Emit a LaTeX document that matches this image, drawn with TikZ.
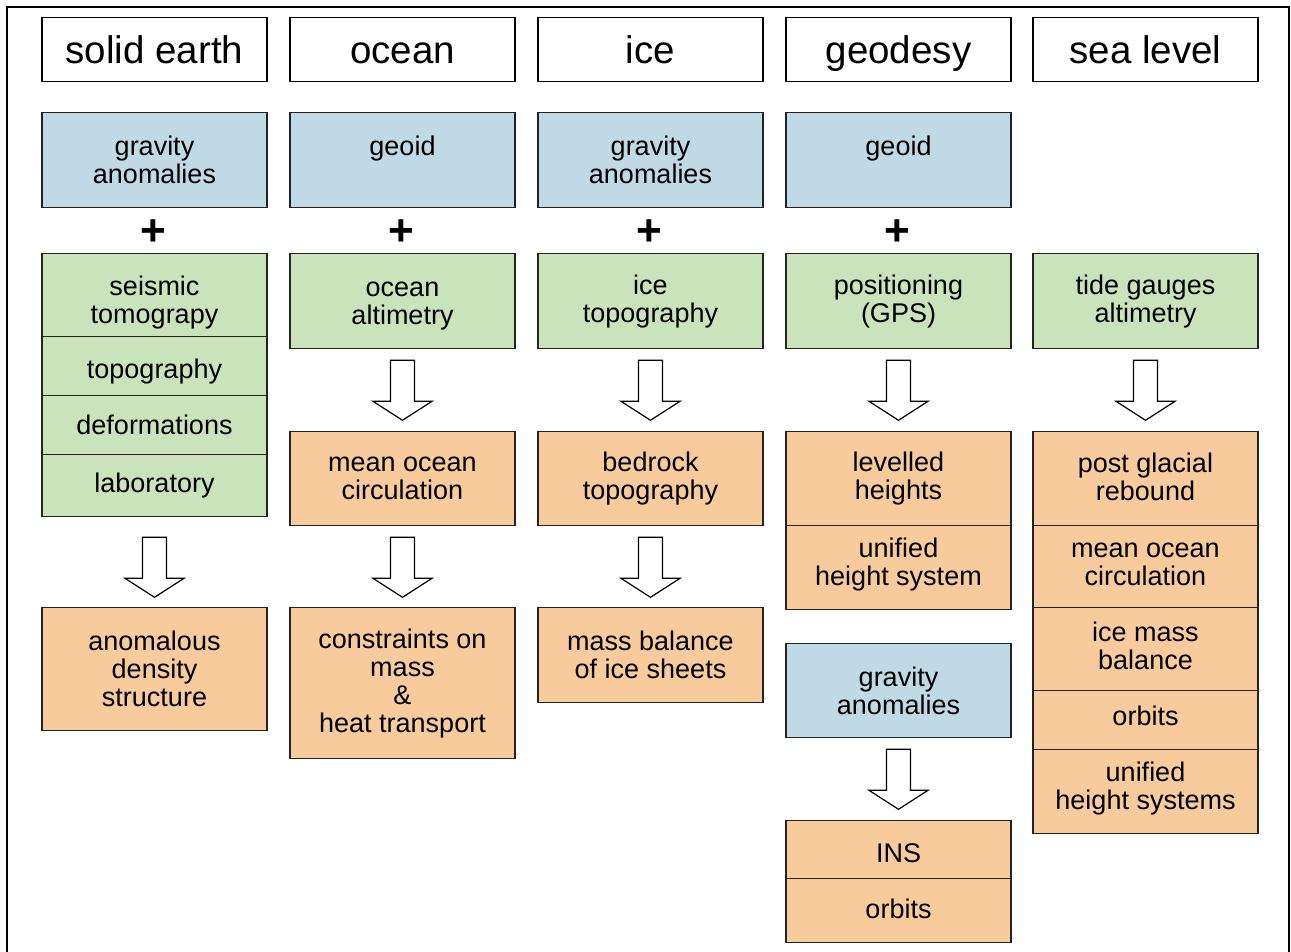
\documentclass[tikz,border=0pt]{standalone}
\usepackage{fontspec}
\setmainfont{Liberation Sans}
\usepackage{xcolor}

\definecolor{cellblue}{RGB}{191,218,228}
\definecolor{cellgreen}{RGB}{203,227,187}
\definecolor{cellorange}{RGB}{248,203,156}
\definecolor{celledge}{RGB}{35,35,35}

% invisible struts to nudge the text of a cell down (height) or up (depth)
\newcommand{\sinktext}[1]{\rule{0pt}{#1}}
\newcommand{\lifttext}[1]{\rule[-#1]{0pt}{#1}}

\tikzset{
  cell/.style={draw=celledge, line width=1.3pt, minimum width=225pt, inner sep=0pt,
    align=center, anchor=north, font=\fontsize{27}{28}\selectfont},
  titlecell/.style={cell, draw=black, fill=white, minimum height=64pt,
    text height=28pt, text depth=0pt, font=\fontsize{38.5}{40}\selectfont},
  bluecell/.style={cell, fill=cellblue},
  greencell/.style={cell, fill=cellgreen},
  orangecell/.style={cell, fill=cellorange},
  plussign/.style={inner sep=0pt, font=\fontsize{44}{44}\bfseries\selectfont},
  hollowarrow/.pic={
    \draw[line width=1.2pt, fill=white] (-12,0) -- (-12,41) -- (-29.5,41) -- (0,60)
      -- (29.5,41) -- (12,41) -- (12,0) -- cycle;
  }
}

\begin{document}
\begin{tikzpicture}[x=1pt, y=-1pt]

\useasboundingbox (0,0) rectangle (1291,952);
\draw[line width=2pt] (7,7) rectangle (1289,975);

\node[titlecell] (solid) at (154.5,17) {solid earth};
\node[titlecell] (ocean) at (402.5,17) {ocean};
\node[titlecell] (ice) at (650.5,17) {ice};
\node[titlecell] (geodesy) at (898.5,17) {geodesy};
\node[titlecell] (sealevel) at (1145.5,17) {sea level};

\node[bluecell, minimum height=95pt] (solidgrav) at (154.5,112) {gravity\\anomalies};
\node[bluecell, minimum height=95pt] (oceangeoid) at (402.5,112) {geoid\\\mbox{}};
\node[bluecell, minimum height=95pt] (icegrav) at (650.5,112) {gravity\\anomalies};
\node[bluecell, minimum height=95pt] (geodgeoid) at (898.5,112) {geoid\\\mbox{}};

\node[plussign] (solidplus) at (153,233) {+};
\node[plussign] (oceanplus) at (401,233) {+};
\node[plussign] (iceplus) at (649,233) {+};
\node[plussign] (geodplus) at (897,233) {+};

\node[greencell, minimum height=83pt] (seismic) at (154.5,253) {\sinktext{35pt}seismic\\tomograpy};
\node[greencell, minimum height=59pt] (topo) at (154.5,336) {\sinktext{31pt}topography};
\node[greencell, minimum height=59pt] (deform) at (154.5,395) {deformations};
\node[greencell, minimum height=62pt] (lab) at (154.5,454) {laboratory};
\node[greencell, minimum height=95pt] (altim) at (402.5,253) {\sinktext{24pt}ocean\\altimetry};
\node[greencell, minimum height=95pt] (icetopo) at (650.5,253) {ice\\topography};
\node[greencell, minimum height=95pt] (gps) at (898.5,253) {positioning\\(GPS)};
\node[greencell, minimum height=95pt] (gauges) at (1145.5,253) {tide gauges\\altimetry};

\path (lab.south) ++(0,20) pic {hollowarrow};
\path (altim.south) ++(0,11) pic {hollowarrow};
\path (icetopo.south) ++(0,11) pic {hollowarrow};
\path (gps.south) ++(0,11) pic {hollowarrow};
\path (gauges.south) ++(0,11) pic {hollowarrow};

\node[orangecell, minimum height=123pt] (density) at (154.5,607) {anomalous\\density\\structure};

\node[orangecell, minimum height=94pt] (circ) at (402.5,431) {mean ocean\\circulation};
\path (circ.south) ++(0,11) pic {hollowarrow};
\node[orangecell, minimum height=151pt] (transport) at (402.5,607) {constraints on\\mass\\\&\\heat transport};

\node[orangecell, minimum height=94pt] (bedrock) at (650.5,431) {bedrock\\topography};
\path (bedrock.south) ++(0,11) pic {hollowarrow};
\node[orangecell, minimum height=95pt] (massbal) at (650.5,607) {mass balance\\of ice sheets};

\node[orangecell, minimum height=94pt] (levelled) at (898.5,431) {levelled\\heights};
\node[orangecell, minimum height=84pt] (unified) at (898.5,525) {unified\\height system\lifttext{11.5pt}};
\node[bluecell, minimum height=94pt] (geodgrav) at (898.5,643) {gravity\\anomalies};
\path (geodgrav.south) ++(0,11) pic {hollowarrow};
\node[orangecell, minimum height=58pt] (ins) at (898.5,820) {\sinktext{25pt}INS};
\node[orangecell, minimum height=64pt] (geodorbits) at (898.5,878) {orbits\lifttext{4pt}};

\node[orangecell, minimum height=94pt] (rebound) at (1145.5,431) {post glacial\\rebound\lifttext{4pt}};
\node[orangecell, minimum height=82pt] (slcirc) at (1145.5,525) {mean ocean\\circulation\lifttext{4pt}};
\node[orangecell, minimum height=83pt] (icemass) at (1145.5,607) {ice mass\\balance\lifttext{6pt}};
\node[orangecell, minimum height=59pt] (slorbits) at (1145.5,690) {orbits\lifttext{8pt}};
\node[orangecell, minimum height=84pt] (slheights) at (1145.5,749) {unified\\height systems\lifttext{11.5pt}};

\end{tikzpicture}
\end{document}
